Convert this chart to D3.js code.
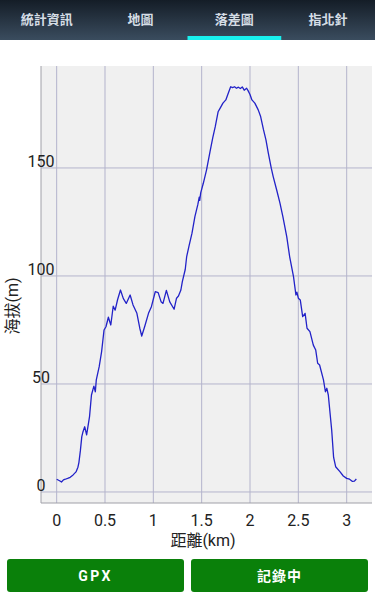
<!DOCTYPE html>
<html><head><meta charset="utf-8">
<script src="https://cdn.jsdelivr.net/npm/d3@7/dist/d3.min.js"></script>
<style>
html,body{margin:0;padding:0;background:#fff;width:375px;height:600px;overflow:hidden;font-family:Roboto,"Noto Sans CJK TC",sans-serif;}
</style></head><body>
<svg id="c" width="375" height="600"></svg>
<script>
const tabs = ["統計資訊","地圖","落差圖","指北針"];
const activeTab = 2;
const distanceKm = [0.00,0.03,0.05,0.07,0.09,0.12,0.14,0.17,0.20,0.22,0.23,0.245,0.26,0.27,0.29,0.31,0.34,0.36,0.385,0.40,0.41,0.44,0.465,0.49,0.51,0.535,0.56,0.585,0.605,0.63,0.66,0.69,0.72,0.76,0.79,0.83,0.86,0.88,0.91,0.95,0.98,1.02,1.05,1.08,1.10,1.135,1.17,1.215,1.24,1.26,1.285,1.30,1.33,1.345,1.37,1.40,1.43,1.46,1.475,1.48,1.49,1.517,1.55,1.586,1.615,1.64,1.67,1.69,1.72,1.75,1.775,1.80,1.82,1.84,1.86,1.88,1.90,1.92,1.94,1.965,1.98,2.00,2.02,2.05,2.085,2.11,2.14,2.165,2.19,2.22,2.24,2.276,2.31,2.34,2.38,2.41,2.45,2.475,2.485,2.50,2.52,2.545,2.57,2.59,2.62,2.655,2.68,2.70,2.72,2.76,2.78,2.795,2.81,2.845,2.865,2.886,2.93,2.965,3.00,3.03,3.06,3.08,3.10];
const elevationM = [5.9,5.2,4.6,5.6,5.9,6.4,6.8,7.9,9.3,11.5,13.6,19,25.6,27.5,30.2,26.4,34.9,44.9,49,46.4,51.9,58,65,75,76.5,80.9,77.3,86,84.2,89,93.5,89.5,87.3,91.2,86.6,82.7,75.8,72.2,76.5,82.7,85.8,92.7,92.3,88.1,87.3,93.3,88,84.6,89.7,90.7,93.5,97.4,103,109,114,119.8,127.5,133,136.5,135,138.5,142.9,149,157.5,164,169,176,177.6,180,181.5,184.6,187.6,187.2,187.6,186.9,187.4,186.8,187.5,186,186.9,185.8,184,181.5,180,176.9,173.8,167.6,163,156.8,149.9,146,139.8,133.7,127.5,118.2,109,99.7,91.2,92.5,89.7,88.9,81.2,82.7,75.8,74.2,68,65.7,59.6,58.8,51.9,46.4,48,44.9,28.7,16,11.7,9.4,7.4,6.3,5.9,4.9,5.0,6.0];
const xTicks = [0,0.5,1,1.5,2,2.5,3];
const xTickLabels = ["0","0.5","1","1.5","2","2.5","3"];
const yTicks = [0,50,100,150];
const yTickLabels = ["0","50","100","150"];
const xTitle = "距離(km)";
const yTitle = "海拔(m)";
const buttons = ["GPX","記錄中"];

const svg = d3.select("#c");
const defs = svg.append("defs");
const g1 = defs.append("linearGradient").attr("id","bar").attr("x1",0).attr("y1",0).attr("x2",0).attr("y2",1);
g1.append("stop").attr("offset","0%").attr("stop-color","#141d27");
g1.append("stop").attr("offset","100%").attr("stop-color","#3a4c5e");

// top bar
svg.append("rect").attr("x",0).attr("y",0).attr("width",375).attr("height",40).attr("fill","url(#bar)");
const tabW = 375/4;
const tabX = d3.scaleBand().domain(d3.range(tabs.length)).range([0,375]);
svg.selectAll("text.tab").data(tabs).join("text").attr("class","tab")
  .attr("x",(d,i)=>tabX(i)+tabW/2).attr("y",24).attr("text-anchor","middle")
  .attr("font-size",13).attr("font-weight","bold").attr("fill","#d5dde5")
  .attr("font-family","'Noto Sans CJK TC',sans-serif").text(d=>d);
svg.append("rect").attr("x",tabX(activeTab)).attr("y",36).attr("width",tabW).attr("height",4).attr("fill","#19f0ee");

// chart
const L=41,R=372,T=66,B=503;
const x = d3.scaleLinear().domain([-0.162,3.262]).range([L,R]);
const y = d3.scaleLinear().domain([-5.1,197.2]).range([B,T]);
svg.append("rect").attr("x",L).attr("y",T).attr("width",R-L).attr("height",B-T).attr("fill","#f0f0f0");
svg.append("g").selectAll("line").data(xTicks).join("line")
  .attr("x1",d=>x(d)).attr("x2",d=>x(d)).attr("y1",T).attr("y2",B)
  .attr("stroke","#b4b4cc").attr("stroke-width",1);
svg.append("g").selectAll("line").data(yTicks).join("line")
  .attr("x1",L).attr("x2",R).attr("y1",d=>y(d)).attr("y2",d=>y(d))
  .attr("stroke","#b4b4cc").attr("stroke-width",1);
svg.append("line").attr("x1",L).attr("x2",L).attr("y1",T).attr("y2",B).attr("stroke","#a0a0a8").attr("stroke-width",1);
svg.append("line").attr("x1",L).attr("x2",R).attr("y1",B).attr("y2",B).attr("stroke","#a0a0a8").attr("stroke-width",1);

const pts = distanceKm.map((d,i)=>[d,elevationM[i]]);
svg.append("path").datum(pts)
  .attr("d",d3.line().x(d=>x(d[0])).y(d=>y(d[1])))
  .attr("fill","none").attr("stroke","#2222c8").attr("stroke-width",1.3).attr("stroke-linejoin","round");

svg.append("g").selectAll("text").data(yTicks).join("text")
  .attr("x",L).attr("y",d=>y(d)-1).attr("text-anchor","middle")
  .attr("font-size",16).attr("fill","#222").text((d,i)=>yTickLabels[i]);
svg.append("g").selectAll("text").data(xTicks).join("text")
  .attr("x",d=>x(d)).attr("y",526).attr("text-anchor","middle")
  .attr("font-size",16).attr("fill","#222").text((d,i)=>xTickLabels[i]);
svg.append("text").attr("x",203).attr("y",546).attr("text-anchor","middle")
  .attr("font-size",16).attr("fill","#222").text(xTitle);
svg.append("text").attr("transform","translate(18,306) rotate(-90)").attr("text-anchor","middle")
  .attr("font-size",16).attr("fill","#222").text(yTitle);

// buttons
const bx = [7,191];
buttons.forEach((b,i)=>{
  svg.append("rect").attr("x",bx[i]).attr("y",559).attr("width",177).attr("height",33).attr("rx",3)
    .attr("fill","#0a800a");
  svg.append("text").attr("x",bx[i]+88.5).attr("y",581).attr("text-anchor","middle")
    .attr("font-size",14).attr("font-weight","bold").attr("letter-spacing",i===0?"2.5px":"1px")
    .attr("fill","#fff").text(b);
});
</script></body></html>
